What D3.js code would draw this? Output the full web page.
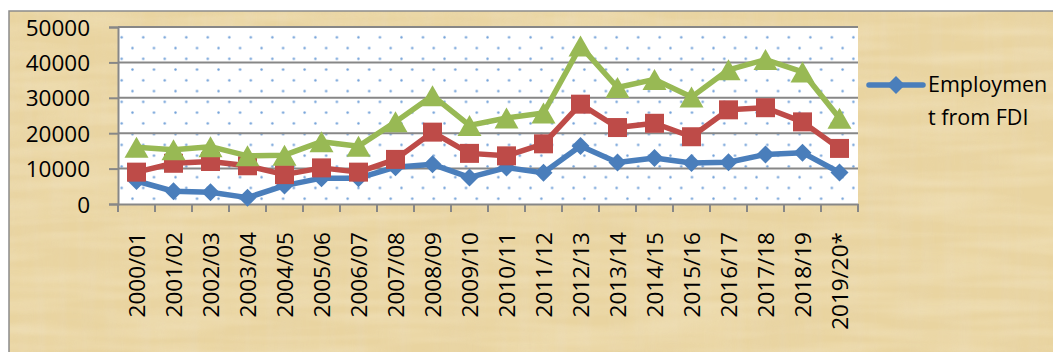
<!DOCTYPE html>
<html>
<head>
<meta charset="utf-8">
<script src="https://cdn.jsdelivr.net/npm/d3@7"></script>
<style>
  html, body { margin: 0; padding: 0; background: #ffffff; }
  svg { display: block; font-family: "Open Sans", Lato, sans-serif; }
</style>
</head>
<body>
<svg id="chart" width="1053" height="352"></svg>
<script>
const categories = ["2000/01","2001/02","2002/03","2003/04","2004/05","2005/06","2006/07","2007/08","2008/09","2009/10","2010/11","2011/12","2012/13","2013/14","2014/15","2015/16","2016/17","2017/18","2018/19","2019/20*"];
const employmentFDI = [6500,3600,3300,1800,5200,7300,7300,10400,11200,7500,10300,8800,16400,11700,13000,11600,11800,14000,14500,8900];
const seriesRed = [9000,11500,12000,10800,8300,10200,9000,12600,20300,14300,13600,17000,28200,21600,22800,19000,26600,27200,23200,15700];
const seriesGreen = [16000,15300,16200,13600,13800,17600,16300,23200,30600,22200,24300,25700,44600,32900,35200,30200,37900,40800,37300,24200];
const yTicks = [0,10000,20000,30000,40000,50000];
const legendLabel = ["Employmen","t from FDI"];

const svg = d3.select("#chart");
const W = 1053, H = 352;
const plot = {left: 118, right: 858, top: 27, bottom: 204};
const FONT = "'Open Sans', Lato, sans-serif";

const defs = svg.append("defs");
// papyrus-like texture
const f = defs.append("filter").attr("id","papyrus").attr("x",0).attr("y",0).attr("width","100%").attr("height","100%");
f.append("feTurbulence").attr("type","fractalNoise").attr("baseFrequency","0.09 0.008").attr("numOctaves",2).attr("seed",3).attr("result","n");
f.append("feColorMatrix").attr("in","n").attr("type","matrix")
  .attr("values","0 0 0 0 0.80  0 0 0 0 0.68  0 0 0 0 0.45  0 0 0 -1.1 0.75");
const f2 = defs.append("filter").attr("id","papyrus2").attr("x",0).attr("y",0).attr("width","100%").attr("height","100%");
f2.append("feTurbulence").attr("type","fractalNoise").attr("baseFrequency","0.008 0.08").attr("numOctaves",2).attr("seed",7).attr("result","n");
f2.append("feColorMatrix").attr("in","n").attr("type","matrix")
  .attr("values","0 0 0 0 0.97  0 0 0 0 0.90  0 0 0 0 0.72  0 0 0 -1.1 0.72");

const tile = 21.52;
const pat = defs.append("pattern").attr("id","dots").attr("patternUnits","userSpaceOnUse")
  .attr("width", tile).attr("height", tile).attr("x", 121.7 - tile/4).attr("y", 37.3 - tile/4);
pat.append("rect").attr("width", tile).attr("height", tile).attr("fill","#ffffff");
pat.append("circle").attr("cx", tile/4).attr("cy", tile/4).attr("r", 1.2).attr("fill","#6f9fd8");
pat.append("circle").attr("cx", tile*3/4).attr("cy", tile*3/4).attr("r", 1.2).attr("fill","#6f9fd8");

// chart area background
const bg = {x: 9, y: 11, w: W - 9, h: H - 11};
svg.append("rect").attr("x", bg.x).attr("y", bg.y).attr("width", bg.w).attr("height", bg.h).attr("fill","#e9d4a0");
svg.append("rect").attr("x", bg.x).attr("y", bg.y).attr("width", bg.w).attr("height", bg.h).attr("filter","url(#papyrus)").attr("opacity",0.6);
svg.append("rect").attr("x", bg.x).attr("y", bg.y).attr("width", bg.w).attr("height", bg.h).attr("filter","url(#papyrus2)").attr("opacity",0.5);
svg.append("path").attr("d", `M${bg.x},${H} L${bg.x},${bg.y} L${W},${bg.y}`).attr("fill","none").attr("stroke","#8c8c8c").attr("stroke-width",1.5);

// plot area
svg.append("rect").attr("x", plot.left).attr("y", plot.top).attr("width", plot.right - plot.left).attr("height", plot.bottom - plot.top).attr("fill","url(#dots)");

const x = d3.scaleBand().domain(categories).range([plot.left, plot.right]).padding(0);
const y = d3.scaleLinear().domain([0, 50000]).range([plot.bottom, plot.top]);

// gridlines
svg.append("g").selectAll("line").data(yTicks.filter(d => d > 0)).join("line")
  .attr("x1", plot.left).attr("x2", plot.right)
  .attr("y1", d => y(d)).attr("y2", d => y(d))
  .attr("stroke","#878787").attr("stroke-width",2);

// y axis
const yAxis = svg.append("g").attr("transform", `translate(${plot.left},0)`)
  .call(d3.axisLeft(y).tickValues(yTicks).tickSize(9).tickPadding(19).tickFormat(d3.format("d")));
yAxis.select(".domain").attr("stroke","#878787").attr("stroke-width",2);
yAxis.selectAll(".tick line").attr("stroke","#878787").attr("stroke-width",2);
yAxis.selectAll(".tick text").attr("font-size", 22.5).attr("fill","#000").attr("font-family", FONT).attr("dy","0.36em");

// x axis
const xAxis = svg.append("g").attr("transform", `translate(0,${plot.bottom})`)
  .call(d3.axisBottom(x).tickSize(0).tickFormat(""));
xAxis.select(".domain").attr("stroke","#878787").attr("stroke-width",2);
const xTickPos = categories.map(c => x(c)).concat([plot.right]);
svg.append("g").selectAll("line").data(xTickPos).join("line")
  .attr("x1", d => d).attr("x2", d => d).attr("y1", plot.bottom).attr("y2", plot.bottom + 8)
  .attr("stroke","#878787").attr("stroke-width",2);
svg.append("g").selectAll("text").data(categories).join("text")
  .attr("transform", d => `translate(${x(d) + x.bandwidth()/2},232) rotate(-90)`)
  .attr("text-anchor","end").attr("dy","0.36em")
  .attr("font-size", 22.5).attr("fill","#000").attr("font-family", FONT)
  .text(d => d);

// custom marker shapes
const triSym = { draw(ctx, size) { const w = 12, h = 10.5; ctx.moveTo(0,-h); ctx.lineTo(w,h); ctx.lineTo(-w,h); ctx.closePath(); } };
const diaSym = { draw(ctx, size) { const r = 9; ctx.moveTo(0,-r); ctx.lineTo(r,0); ctx.lineTo(0,r); ctx.lineTo(-r,0); ctx.closePath(); } };
const sqSym = { draw(ctx, size) { const r = 9.5; ctx.rect(-r,-r,2*r,2*r); } };

const series = [
  {values: employmentFDI, color: "#4a7ebb", sym: diaSym},
  {values: seriesRed, color: "#be4b48", sym: sqSym},
  {values: seriesGreen, color: "#98b954", sym: triSym}
];
const line = d3.line().x((d,i) => x(categories[i]) + x.bandwidth()/2).y(d => y(d));

series.forEach(s => {
  const g = svg.append("g");
  g.append("path").attr("d", line(s.values)).attr("fill","none").attr("stroke", s.color).attr("stroke-width",5.5).attr("stroke-linejoin","round").attr("stroke-linecap","round");
  g.selectAll("path.m").data(s.values).join("path").attr("class","m")
    .attr("transform", (d,i) => `translate(${x(categories[i]) + x.bandwidth()/2},${y(d)})`)
    .attr("d", d3.symbol().type(s.sym).size(100)())
    .attr("fill", s.color);
});

// legend
const lg = svg.append("g");
lg.append("line").attr("x1", 869).attr("x2", 923).attr("y1", 85).attr("y2", 85).attr("stroke","#4a7ebb").attr("stroke-width",5.5).attr("stroke-linecap","round");
lg.append("path").attr("transform","translate(896,85)").attr("d", d3.symbol().type(diaSym).size(100)()).attr("fill","#4a7ebb");
lg.selectAll("text").data(legendLabel).join("text")
  .attr("x", 928).attr("y", (d,i) => 92 + i*33)
  .attr("font-size", 21.5).attr("fill","#000").attr("font-family", FONT).text(d => d);
</script>
</body>
</html>
